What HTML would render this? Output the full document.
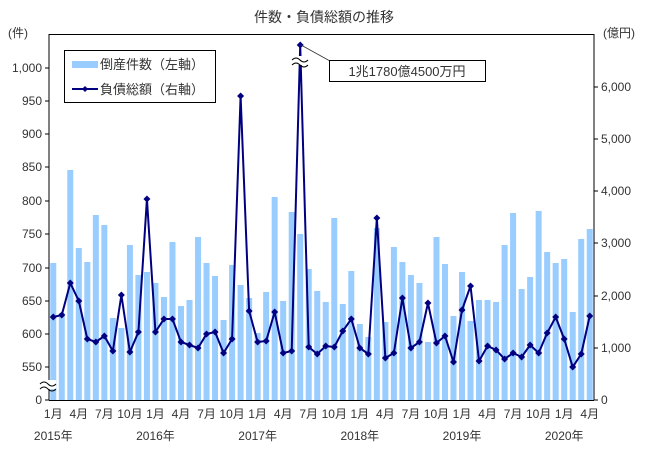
<!DOCTYPE html>
<html><head><meta charset="utf-8"><style>
html,body{margin:0;padding:0;background:#fff;}
svg{display:block;font-family:"Liberation Sans","Noto Sans CJK JP",sans-serif;}
</style></head><body>
<svg id="s" width="648" height="450" viewBox="0 0 648 450" xmlns="http://www.w3.org/2000/svg">
<rect width="648" height="450" fill="#fff"/>
<text x="324" y="22" font-size="14" text-anchor="middle" fill="#333">件数・負債総額の推移</text>
<text x="8" y="37" font-size="12" fill="#333">(件)</text>
<text x="603" y="37" font-size="12" fill="#333">(億円)</text>
<g id="bars"></g>
<g id="axes" stroke="#000" stroke-width="1"></g>
<g id="lbl" font-size="12" fill="#333"></g>
<g id="line"></g>
<rect x="64.5" y="50.5" width="151" height="52" fill="#fff" stroke="#000"/>
<rect x="72" y="61" width="26" height="7" fill="#99ccff"/>
<text x="100" y="69" font-size="13" fill="#333">倒産件数（左軸）</text>
<line x1="72" y1="89" x2="98" y2="89" stroke="#000080" stroke-width="2"/>
<path d="M85 86 L88 89 L85 92 L82 89Z" fill="#000080"/>
<text x="100" y="94" font-size="13" fill="#333">負債総額（右軸）</text>
<line x1="301" y1="45" x2="330" y2="61" stroke="#333" stroke-width="0.8"/>
<rect x="329.5" y="60.5" width="156" height="21" fill="#fff" stroke="#000"/>
<text x="407" y="76" font-size="13" text-anchor="middle" fill="#333">1兆1780億4500万円</text>
<rect x="292" y="56" width="16" height="9" fill="#fff"/>
<path d="M292 60 q4 -4 8 0 t8 0 M292 65 q4 -4 8 0 t8 0" stroke="#000" fill="none" stroke-width="1"/>
<rect x="40" y="380" width="16" height="9" fill="#fff"/>
<path d="M40 384 q4 -4 8 0 t8 0 M40 389 q4 -4 8 0 t8 0" stroke="#000" fill="none" stroke-width="1"/>
</svg>
<script>
var NS="http://www.w3.org/2000/svg";
function el(t,a,p){var e=document.createElementNS(NS,t);for(var k in a)e.setAttribute(k,a[k]);document.getElementById(p).appendChild(e);return e;}
var bt=[263,313,170,248,262,215,225,318,328,245,275,272,283,297,242,306,300,237,263,276,320,265,285,298,333,292,197,301,212,234,269,291,302,218,304,271,324,337,228,322,247,262,275,283,342,237,264,316,272,321,300,300,302,245,213,289,277,211,252,263,259,312,239,229];
var lp=[317,315,283,301,339,342,336,351,295,352,332,199,332,319,319,342,345,348,334,332,353,339,96,311,342,341,312,353,351,45,347,354,346,347,331,319,348,354,218,358,353,298,348,342,303,343,336,362,310,286,361,346,350,359,353,357,345,353,333,317,339,367,354,316];
var L=49,R=594,T=34,B=400,w=(R-L)/64;
function cx(i){return L+w*(i+0.5);}
bt.forEach(function(y,i){el('rect',{x:cx(i)-3,y:y,width:6,height:B-y,fill:'#99ccff'},'bars');});
el('line',{x1:L,y1:T,x2:L,y2:B},'axes');
el('line',{x1:R,y1:T,x2:R,y2:B},'axes');
el('line',{x1:L,y1:B+0.5,x2:R,y2:B+0.5},'axes');
el('line',{x1:L,y1:T+0.5,x2:R,y2:T+0.5},'axes');
var ll=[[400,'0'],[367,'550'],[334,'600'],[301,'650'],[268,'700'],[234,'750'],[201,'800'],[167,'850'],[134,'900'],[101,'950'],[68,'1,000']];
ll.forEach(function(a){el('line',{x1:L-4,y1:a[0],x2:L,y2:a[0]},'axes');var t=el('text',{x:L-7,y:a[0]+4,'text-anchor':'end'},'lbl');t.textContent=a[1];});
var rl=[[400,'0'],[348,'1,000'],[296,'2,000'],[243,'3,000'],[191,'4,000'],[139,'5,000'],[87,'6,000']];
rl.forEach(function(a){el('line',{x1:R,y1:a[0],x2:R+4,y2:a[0]},'axes');var t=el('text',{x:R+7,y:a[0]+4},'lbl');t.textContent=a[1];});
for(var i=0;i<64;i+=3){var m=(i%12)+1;var t=el('text',{x:cx(i),y:418,'text-anchor':'middle'},'lbl');t.textContent=m+'月';
 if(m==1){var y=el('text',{x:cx(i),y:440,'text-anchor':'middle'},'lbl');y.textContent=(2015+i/12)+'年';}}
var pts=lp.map(function(y,i){return cx(i)+','+y;}).join(' ');
el('polyline',{points:pts,fill:'none',stroke:'#000080','stroke-width':2},'line');
lp.forEach(function(y,i){var x=cx(i);el('path',{d:'M'+x+' '+(y-3.5)+' L'+(x+3.5)+' '+y+' L'+x+' '+(y+3.5)+' L'+(x-3.5)+' '+y+'Z',fill:'#000080'},'line');});
</script>
</body></html>
